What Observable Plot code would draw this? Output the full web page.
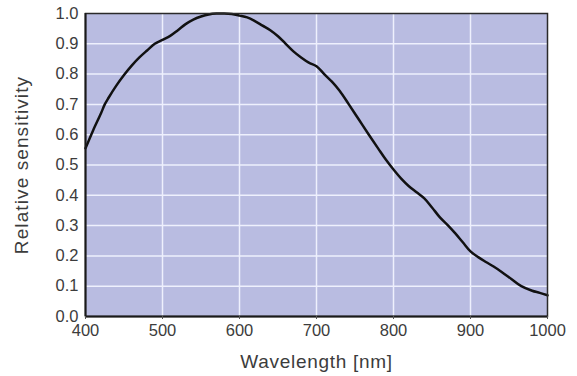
<!DOCTYPE html>
<html>
<head>
<meta charset="utf-8">
<script src="https://cdn.jsdelivr.net/npm/d3@7"></script>
<script src="https://cdn.jsdelivr.net/npm/@observablehq/plot@0.6"></script>
<style>
  body { margin: 0; background: white; }
</style>
</head>
<body>
<div id="chart"></div>
<script>
const wavelength = [400,410,420,425,430,440,450,460,470,480,490,500,510,520,530,540,550,560,570,580,590,600,610,620,630,640,650,660,670,680,690,700,710,720,730,742,755,768,780,790,800,810,820,830,840,850,860,871,880,890,900,910,920,930,940,953,966,980,990,1000];
const sensitivity = [0.555,0.615,0.67,0.70,0.722,0.762,0.797,0.828,0.855,0.878,0.90,0.913,0.926,0.945,0.965,0.98,0.99,0.997,1.0,1.0,0.998,0.993,0.987,0.975,0.96,0.945,0.925,0.90,0.875,0.855,0.838,0.826,0.80,0.775,0.745,0.70,0.65,0.60,0.555,0.518,0.485,0.455,0.43,0.41,0.39,0.36,0.328,0.30,0.275,0.245,0.215,0.196,0.18,0.165,0.148,0.124,0.10,0.085,0.078,0.07];
const xTicks = [400,500,600,700,800,900,1000];
const yTicks = [0,0.1,0.2,0.3,0.4,0.5,0.6,0.7,0.8,0.9,1.0];
const xGrid = [500,600,700,800,900];
const yGrid = [0.1,0.2,0.3,0.4,0.5,0.6,0.7,0.8,0.9];

const data = wavelength.map((w, i) => ({w, s: sensitivity[i]}));

const chart = Plot.plot({
  width: 577,
  height: 376,
  marginLeft: 85,
  marginRight: 30,
  marginTop: 13,
  marginBottom: 60,
  style: {fontFamily: "'Liberation Sans', Arial, Helvetica, sans-serif", color: "#3c3c3c", background: "white"},
  x: {domain: [400, 1000]},
  y: {domain: [0, 1]},
  marks: [
    Plot.frame({fill: "#b9bce1", stroke: null}),
    Plot.gridX(xGrid, {stroke: "#eef0fd", strokeOpacity: 1, strokeWidth: 1.5}),
    Plot.gridY(yGrid, {stroke: "#eef0fd", strokeOpacity: 1, strokeWidth: 1.5}),
    Plot.line(data, {x: "w", y: "s", stroke: "#111", strokeWidth: 2.5, curve: "catmull-rom"}),
    Plot.frame({stroke: "#2a2a2a", strokeWidth: 1.5}),
    Plot.ruleX([400], {stroke: "#1a1a1a", strokeWidth: 2}),
    Plot.ruleY([0], {stroke: "#1a1a1a", strokeWidth: 2}),
    Plot.axisX(xTicks, {tickSize: 3, tickPadding: 5, stroke: "#555", fontSize: 16.5, tickFormat: d3.format("d"), label: "Wavelength [nm]", labelAnchor: "center", labelOffset: 51, labelArrow: "none"}),
    Plot.axisY(yTicks, {tickSize: 0, tickPadding: 7, fontSize: 16.5, tickFormat: d3.format(".1f"), label: "Relative sensitivity", labelAnchor: "center", labelOffset: 71, labelArrow: "none"})
  ]
});
chart.querySelectorAll('[aria-label="x-axis tick label"], [aria-label="y-axis tick label"]').forEach(g => {
  g.setAttribute("font-size", "16.5");
  g.querySelectorAll("text").forEach(t => t.style.fontSize = "16.5px");
});
chart.querySelectorAll('[aria-label="x-axis label"]').forEach(g => {
  g.setAttribute("font-size", "19");
  g.querySelectorAll("text").forEach(t => { t.style.fontSize = "19px"; t.style.letterSpacing = "0.7px"; });
});
chart.querySelectorAll('[aria-label="y-axis label"]').forEach(g => {
  g.setAttribute("font-size", "19");
  g.querySelectorAll("text").forEach(t => { t.style.fontSize = "19px"; t.style.letterSpacing = "1.1px"; });
});
document.getElementById("chart").append(chart);
</script>
</body>
</html>
